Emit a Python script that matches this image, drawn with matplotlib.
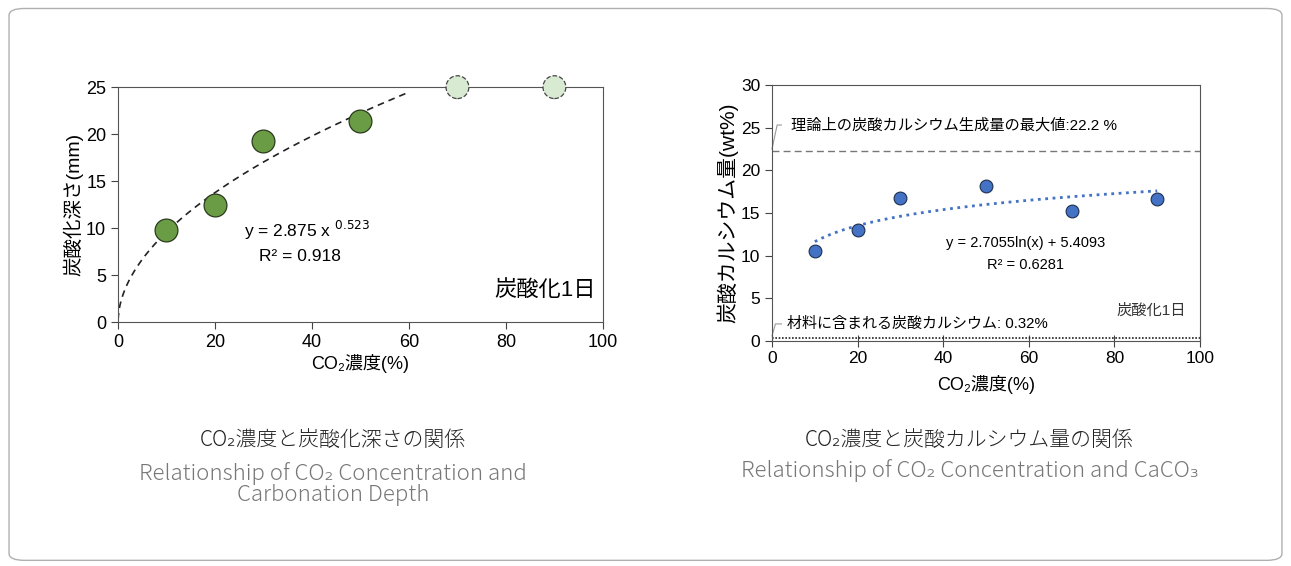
import numpy as np
import matplotlib.pyplot as plt
from matplotlib.patches import FancyBboxPatch

plt.rcParams['font.family'] = ['Liberation Sans', 'Noto Sans CJK JP', 'DejaVu Sans']

# left chart: carbonation depth
depth_x = [10, 20, 30, 50]
depth_y = [9.8, 12.5, 19.3, 21.4]
depth_off_x = [70, 90]          # off-scale points drawn at the top
depth_off_y = [25, 25]
depth_a, depth_b = 2.875, 0.523

# right chart: calcium carbonate amount
caco3_x = [10, 20, 30, 50, 70, 90]
caco3_y = [10.5, 13.0, 16.8, 18.1, 15.2, 16.6]
caco3_a, caco3_b = 2.7055, 5.4093
caco3_max = 22.2
caco3_base = 0.32

fig = plt.figure(figsize=(12.91, 5.66), dpi=100)
frame = FancyBboxPatch((0.007, 0.010), 0.986, 0.975, boxstyle="round,pad=0,rounding_size=0.012",
                       transform=fig.transFigure, fill=False, edgecolor='#b0b0b0', lw=1.0)
fig.patches.append(frame)

# ---- left
ax1 = fig.add_axes([0.0914, 0.431, 0.3756, 0.415])
xs = np.linspace(0.01, 60, 300)
ax1.plot(xs, depth_a * xs ** depth_b, '--', color='#222222', lw=1.2, dashes=(4, 3))
ax1.scatter(depth_x, depth_y, s=270, color='#6a9c45', edgecolor='#2b3a1e', lw=0.9, zorder=3)
ax1.scatter(depth_off_x, depth_off_y, s=270, color='#d9ead3', edgecolor='#444444', lw=0.9,
            linestyles='--', zorder=3, clip_on=False)
ax1.set_xlim(0, 100)
ax1.set_ylim(0, 25)
ax1.set_xticks(range(0, 101, 20))
ax1.set_yticks(range(0, 26, 5))
ax1.tick_params(labelsize=13, direction='out', length=5, color='#444444')
for s in ax1.spines.values():
    s.set_color('#555555')
ax1.set_xlabel('CO₂濃度(%)', fontsize=13, labelpad=2)
ax1.set_ylabel('炭酸化深さ(mm)', fontsize=14, labelpad=2)
ax1.text(26, 9.8, 'y = 2.875 x $^{0.523}$', fontsize=12.5, ha='left', va='center')
ax1.text(29, 7.0, 'R² = 0.918', fontsize=12.5, ha='left', va='center')
ax1.text(98.5, 3.4, '炭酸化1日', fontsize=16, ha='right', va='center')

# ---- right
ax2 = fig.add_axes([0.598, 0.3975, 0.3315, 0.4525])
xs2 = np.linspace(10, 90, 200)
ax2.plot(xs2, caco3_a * np.log(xs2) + caco3_b, ':', color='#4472c4', lw=2.0)
ax2.scatter(caco3_x, caco3_y, s=85, color='#4472c4', edgecolor='#1f2f4f', lw=0.8, zorder=3)
ax2.axhline(caco3_max, color='#777777', lw=1.0, ls=(0, (5, 3)))
ax2.axhline(caco3_base, color='#222222', lw=1.2, ls=(0, (1, 1)))
ax2.set_xlim(0, 100)
ax2.set_ylim(0, 30)
ax2.set_xticks(range(0, 101, 20))
ax2.set_yticks(range(0, 31, 5))
ax2.tick_params(axis='x', labelsize=12.5, direction='inout', length=8, color='#444444')
ax2.tick_params(axis='y', labelsize=12.5, direction='out', length=5, color='#444444')
for s in ax2.spines.values():
    s.set_color('#555555')
ax2.set_xlabel('CO₂濃度(%)', fontsize=13, labelpad=6)
ax2.set_ylabel('炭酸カルシウム量(wt%)', fontsize=15, labelpad=2)
ax2.plot([0, 1.2, 2.2], [22.5, 25.3, 25.3], color='#999999', lw=0.8, clip_on=False)
ax2.text(4.5, 25.3, '理論上の炭酸カルシウム生成量の最大値:22.2 %', fontsize=11, va='center')
ax2.plot([0, 0.8, 2.2], [0.6, 2.0, 2.0], color='#999999', lw=0.8, clip_on=False)
ax2.text(3.5, 2.0, '材料に含まれる炭酸カルシウム: 0.32%', fontsize=10.8, va='center')
ax2.text(59.3, 11.5, 'y = 2.7055ln(x) + 5.4093', fontsize=10.5, ha='center', va='center')
ax2.text(59.3, 8.9, 'R² = 0.6281', fontsize=10.5, ha='center', va='center')
ax2.text(96.8, 3.5, '炭酸化1日', fontsize=11, ha='right', va='center', color='#333333')

# captions
cap_font = ['Noto Sans CJK JP', 'DejaVu Sans']
fig.text(0.258, 1 - 440 / 566, 'CO₂濃度と炭酸化深さの関係', fontsize=15, ha='center', va='center',
         color='#222222', family=cap_font, weight='light')
fig.text(0.258, 1 - 484 / 566, 'Relationship of CO₂ Concentration and\nCarbonation Depth', fontsize=16,
         ha='center', va='center', color='#777777', family=cap_font, weight='light', linespacing=0.95)
fig.text(0.751, 1 - 440 / 566, 'CO₂濃度と炭酸カルシウム量の関係', fontsize=15, ha='center', va='center',
         color='#222222', family=cap_font, weight='light')
fig.text(0.751, 1 - 471 / 566, 'Relationship of CO₂ Concentration and CaCO₃', fontsize=16,
         ha='center', va='center', color='#777777', family=cap_font, weight='light')

fig.savefig('out.png', dpi=100)
